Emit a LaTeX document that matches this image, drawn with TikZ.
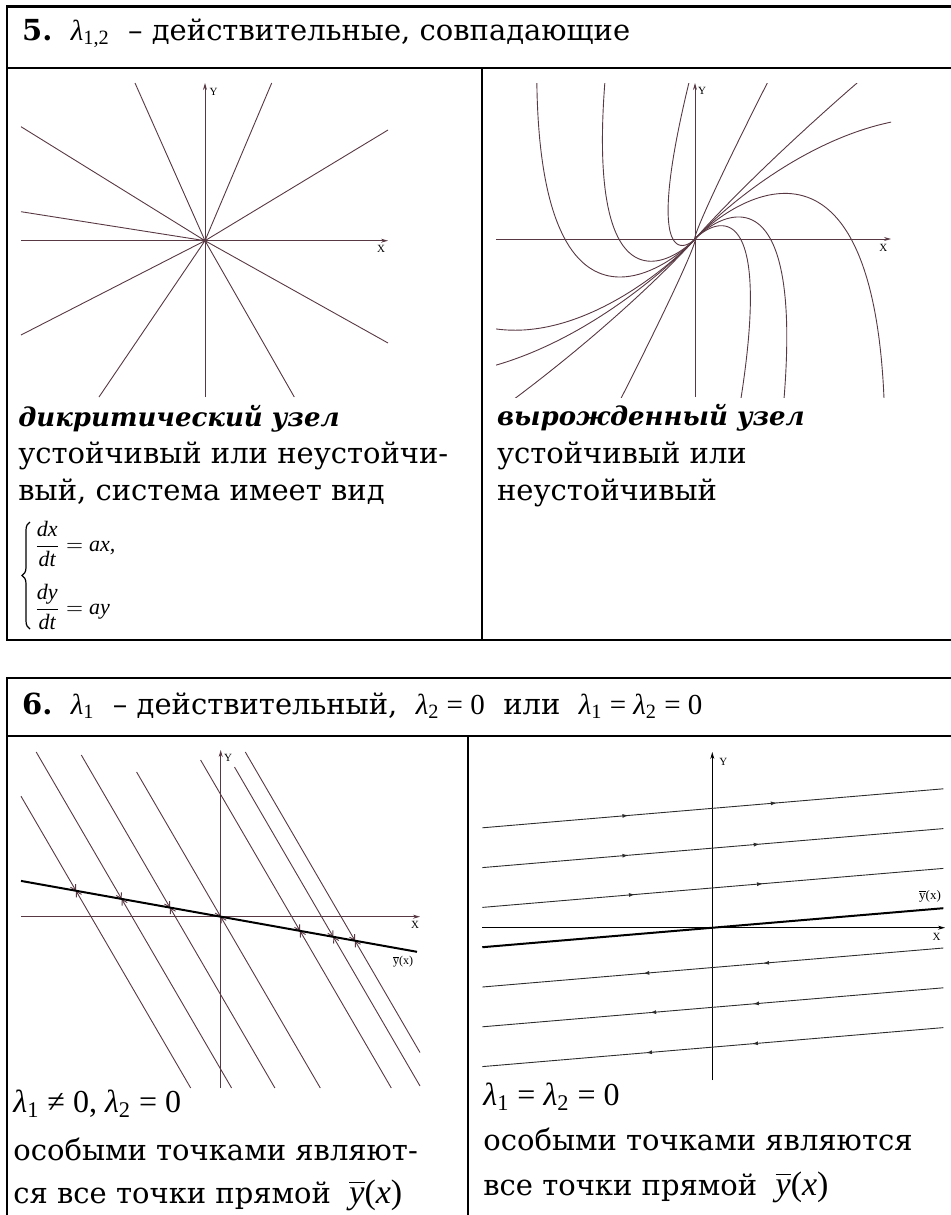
\documentclass[tikz,border=0pt]{standalone}
\usepackage{fontspec}
\usepackage{amsmath}
\setmainfont{DejaVu Serif}
\newfontfamily\tms{Liberation Serif}
\usetikzlibrary{arrows.meta,decorations.markings,decorations.pathreplacing}

\definecolor{trajcol}{RGB}{88,56,66}
\definecolor{flowcol}{RGB}{45,45,45}

\newcommand\lam[1]{$\text{\tms\itshape λ}_{\text{\tms #1}}$}
\newcommand\teq{{\tms\ =\ }}
\newcommand\ybar{{\tms\fontsize{17}{19}\selectfont$\overline{\text{\itshape y}}$(\textit{x})}}

\tikzset{
    tabline/.style={line width=1.35pt},
    traj/.style={color=trajcol, line width=0.45pt},
    axisline/.style={line width=0.45pt, -{Stealth[length=3.5pt,width=2pt]}},
    trajarrow/.style={traj, -{Straight Barb[length=2.5pt,width=3pt]}},
    flowmarks/.style 2 args={postaction={decorate}, decoration={markings,
        mark=at position #1 with {\arrow{Latex[length=3pt,width=2pt]}},
        mark=at position #2 with {\arrow{Latex[length=3pt,width=2pt]}}}},
    axlabel/.style={inner sep=0pt, font=\tms\fontsize{5.5}{6}\selectfont},
    txt/.style={anchor=base west, inner sep=0pt, font=\fontsize{14.5}{17}\selectfont},
    kindlabel/.style={txt, font=\fontsize{13}{16}\selectfont\bfseries\itshape},
    mathline/.style={txt, font=\fontsize{16}{19}\selectfont},
    eqline/.style={anchor=west, inner sep=0pt, font=\fontsize{11}{13}\selectfont},
}

\begin{document}
\begin{tikzpicture}[x=0.5pt, y=-0.5pt]
    \useasboundingbox (0,0) rectangle (951,1215);

    % table 5
    \draw[tabline] (955,6.5) -- (7,6.5) -- (7,640) -- (955,640);
    \draw[tabline] (7,68) -- (955,68);
    \draw[tabline] (482,68) -- (482,640);
    \node[txt] (head5) at (21.7,40) {{\bfseries 5.}\ \ \lam{1,2}\ \ – действительные, совпадающие};

    % dicritical node
    \coordinate (o1) at (205,240.7);
    \draw[axisline, color=trajcol] (21,240.7) -- (388,240.7);
    \draw[axisline, color=trajcol] (205,397) -- (205,83);
    \node[axlabel] (ylab1) at (213.5,91.5) {Y};
    \node[axlabel] (xlab1) at (381,248.5) {X};
    \draw[traj] (o1) -- (21,126.7)  (o1) -- (21,211.7)  (o1) -- (21,335)
                (o1) -- (135,83)    (o1) -- (271.7,83)  (o1) -- (388,130)
                (o1) -- (388,343)   (o1) -- (99,397)    (o1) -- (294.3,397);
    \fill[trajcol] (o1) circle (1.6);

    \node[kindlabel] (name5a) at (18,426.7) {дикритический узел};
    \node[txt] (desc5a1) at (18,463.3) {устойчивый или неустойчи-};
    \node[txt] (desc5a2) at (18,500) {вый, система имеет вид};
    \node[eqline] (eq5a1) at (34,544)
        {$\dfrac{\text{\tms\itshape dx}}{\text{\tms\itshape dt}}=\text{\tms\itshape ax,}$};
    \node[eqline] (eq5a2) at (34,607)
        {$\dfrac{\text{\tms\itshape dy}}{\text{\tms\itshape dt}}=\text{\tms\itshape ay}$};
    \draw[decorate, decoration={brace, amplitude=4pt}, line width=0.6pt] (30,629) -- (30,522);

    % degenerate node, x(t) = S e^t (t e1 + e2)
    \coordinate (o2) at (695,239);
    \draw[axisline, color=trajcol] (496,239) -- (891,239);
    \draw[axisline, color=trajcol] (695,397) -- (695,83);
    \node[axlabel] (ylab2) at (702,90.7) {Y};
    \node[axlabel] (xlab2) at (883.3,248.3) {X};
    \begin{scope}[shift={(o2)}, yscale=-1]
        \clip (-199,-158) rectangle (196,156);
        \draw[traj] (0,0) -- plot[variable=\t, domain=-9:1, samples=160, smooth] ({1*exp(\t)*(73.8*\t-130.1)},{1*exp(\t)*103.3*\t});
        \draw[traj] (0,0) -- plot[variable=\t, domain=-9:1.3, samples=160, smooth] ({0.585*exp(\t)*(73.8*\t-130.1)},{0.585*exp(\t)*103.3*\t});
        \draw[traj] (0,0) -- plot[variable=\t, domain=-9:2, samples=160, smooth] ({0.17*exp(\t)*(73.8*\t-130.1)},{0.17*exp(\t)*103.3*\t});
        \draw[traj] (0,0) -- plot[variable=\t, domain=-9:5.3, samples=200, smooth] ({0.002*exp(\t)*(73.8*\t-130.1)},{0.002*exp(\t)*103.3*\t});
        \draw[traj] (0,0) -- plot[variable=\t, domain=-9:-0.5, samples=160, smooth] ({2.4*exp(\t)*(73.8*\t-130.1)},{2.4*exp(\t)*103.3*\t});
        \draw[traj] (0,0) -- plot[variable=\t, domain=-9:-1.1, samples=160, smooth] ({3.6*exp(\t)*(73.8*\t-130.1)},{3.6*exp(\t)*103.3*\t});
        \draw[traj] (0,0) -- plot[variable=\t, domain=-9:-2.7, samples=160, smooth] ({10.6*exp(\t)*(73.8*\t-130.1)},{10.6*exp(\t)*103.3*\t});
        % mirrored branch
        \draw[traj] (0,0) -- plot[variable=\t, domain=-9:1.6, samples=160, smooth] ({-0.35*exp(\t)*(73.8*\t-130.1)},{-0.35*exp(\t)*103.3*\t});
        \draw[traj] (0,0) -- plot[variable=\t, domain=-9:1.3, samples=160, smooth] ({-0.58*exp(\t)*(73.8*\t-130.1)},{-0.58*exp(\t)*103.3*\t});
        \draw[traj] (0,0) -- plot[variable=\t, domain=-9:1, samples=160, smooth] ({-1.2*exp(\t)*(73.8*\t-130.1)},{-1.2*exp(\t)*103.3*\t});
        \draw[traj] (0,0) -- plot[variable=\t, domain=-9:-0.9, samples=160, smooth] ({-3.2*exp(\t)*(73.8*\t-130.1)},{-3.2*exp(\t)*103.3*\t});
        \draw[traj] (0,0) -- plot[variable=\t, domain=-9:-3.5, samples=160, smooth] ({-19*exp(\t)*(73.8*\t-130.1)},{-19*exp(\t)*103.3*\t});
        \draw[traj] (0,0) -- plot[variable=\t, domain=-9:5.3, samples=200, smooth] ({-0.002*exp(\t)*(73.8*\t-130.1)},{-0.002*exp(\t)*103.3*\t});
    \end{scope}

    \node[kindlabel] (name5b) at (496.7,425) {вырожденный узел};
    \node[txt] (desc5b1) at (496.7,463) {устойчивый или};
    \node[txt] (desc5b2) at (496.7,500) {неустойчивый};

    % table 6
    \draw[tabline] (7,1220) -- (7,678) -- (955,678);
    \draw[tabline] (7,736) -- (955,736);
    \draw[tabline] (468,736) -- (468,1220);
    \node[txt] (head6) at (21.7,714) {{\bfseries 6.}\ \ \lam{1}\ \ – действительный,\ \ \lam{2}\teq{\tms 0}\ \ или\ \ \lam{1}\teq\lam{2}\teq{\tms 0}};

    % lambda_1 /= 0: lines onto the singular line
    \coordinate (o3) at (220.7,916.7);
    \draw[axisline, color=trajcol] (21,916.7) -- (420,916.7);
    \draw[axisline, color=trajcol] (220.7,1088) -- (220.7,750);
    \node[axlabel] (ylab3) at (228,758.3) {Y};
    \node[axlabel] (xlab3) at (415,925) {X};
    \coordinate (p1) at (76,890.8);
    \coordinate (p2) at (121.7,899);
    \coordinate (p3) at (170,907.6);
    \coordinate (p4) at (220.7,916.7);
    \coordinate (p5) at (300,930.9);
    \coordinate (p6) at (333.3,936.9);
    \coordinate (p7) at (355,940.7);
    \draw[trajarrow] (21,796.2) -- (p1);
    \draw[trajarrow] (190.7,1088) -- (p1);
    \draw[trajarrow] (36.2,752) -- (p2);
    \draw[trajarrow] (231.6,1088) -- (p2);
    \draw[trajarrow] (81.3,755) -- (p3);
    \draw[trajarrow] (274.9,1088) -- (p3);
    \draw[trajarrow] (136.6,772) -- (p4);
    \draw[trajarrow] (320.3,1088) -- (p4);
    \draw[trajarrow] (200.6,760) -- (p5);
    \draw[trajarrow] (391.3,1088) -- (p5);
    \draw[trajarrow] (234.5,767) -- (p6);
    \draw[trajarrow] (420,1086) -- (p6);
    \draw[trajarrow] (245.3,752) -- (p7);
    \draw[trajarrow] (420,1052.5) -- (p7);
    \draw[line width=1pt] (21,880.9) -- (417,951.8);
    \node[axlabel, font=\tms\fontsize{6}{7}\selectfont] (ybar3) at (403,962) {$\overline{\text{y}}$(x)};

    \node[mathline] (cond6a) at (13,1112) {\lam{1}{\tms\ ≠\ 0,\ }\lam{2}\teq{\tms 0}};
    \node[txt] (desc6a1) at (13,1160) {особыми точками являют-};
    \node[txt] (desc6a2) at (13,1203) {ся все точки прямой\ \ \ybar};

    % lambda_1 = lambda_2 = 0: parallel lines
    \coordinate (o4) at (712.3,927.7);
    \draw[axisline] (482.3,927.7) -- (945,927.7);
    \draw[axisline] (712.3,1080) -- (712.3,752);
    \node[axlabel] (ylab4) at (723.3,761.7) {Y};
    \node[axlabel] (xlab4) at (936.7,937) {X};
    \draw[flowcol, line width=0.45pt, flowmarks={0.317}{0.639}] (482.3,827.8) -- (943.3,788.8);
    \draw[flowcol, line width=0.45pt, flowmarks={0.317}{0.602}] (482.3,867.6) -- (943.3,828.6);
    \draw[flowcol, line width=0.45pt, flowmarks={0.331}{0.609}] (482.3,907.4) -- (943.3,868.4);
    \draw[flowcol, line width=0.45pt, flowmarks={0.391}{0.651}] (943.3,948) -- (482.3,987);
    \draw[flowcol, line width=0.45pt, flowmarks={0.413}{0.636}] (943.3,987.8) -- (482.3,1026.8);
    \draw[flowcol, line width=0.45pt, flowmarks={0.415}{0.645}] (943.3,1027.6) -- (482.3,1066.6);
    \draw[line width=1pt] (482.3,947.2) -- (943.3,908.2);
    \node[axlabel, font=\tms\fontsize{6.5}{7}\selectfont] (ybar4) at (930,896.7) {$\overline{\text{y}}$(x)};

    \node[mathline] (cond6b) at (483,1105) {\lam{1}\teq\lam{2}\teq{\tms 0}};
    \node[txt] (desc6b1) at (483,1150) {особыми точками являются};
    \node[txt] (desc6b2) at (483,1195) {все точки прямой\ \ \ybar};
\end{tikzpicture}
\end{document}
